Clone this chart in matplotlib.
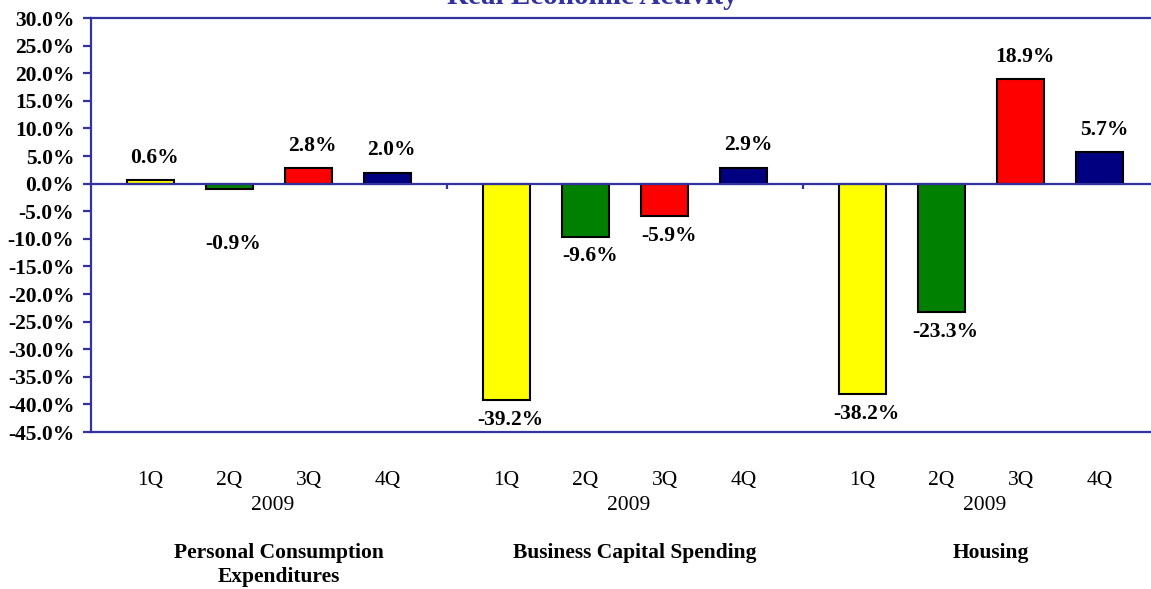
import matplotlib
matplotlib.use("Agg")
import matplotlib.pyplot as plt
import numpy as np

groups = ["Personal Consumption\nExpenditures", "Business Capital Spending", "Housing"]
quarters = ["1Q", "2Q", "3Q", "4Q"]
year = "2009"
values = [
    [0.6, -0.9, 2.8, 2.0],
    [-39.2, -9.6, -5.9, 2.9],
    [-38.2, -23.3, 18.9, 5.7],
]
colors = ["#FFFF00", "#008000", "#FF0000", "#000080"]
title = "Real Economic Activity"
yticks = np.arange(-45, 31, 5)

axis_color = "#3333A0"
serif = ["Liberation Serif", "DejaVu Serif"]
fs = 15.5

fig = plt.figure(figsize=(11.51, 5.89), dpi=100)
W, H = 1151, 589
ax = fig.add_axes([91 / W, 1 - 432 / H, (1159 - 91) / W, (432 - 18) / H])

gw = 4.5
margin = (gw - 3) / 2
bw = 0.6
for g, vals in enumerate(values):
    xs = g * gw + margin + np.arange(4)
    ax.bar(xs, vals, width=bw, color=colors, edgecolor="black", linewidth=1.5, zorder=3)
    for i, (x, v) in enumerate(zip(xs, vals)):
        if v >= 0:
            ax.annotate(f"{v:.1f}%", (x, v), xytext=(3, 9), textcoords="offset points",
                        ha="center", va="bottom", fontsize=fs, fontweight="bold",
                        family=serif)
        else:
            off = -33 if (g == 0 and i == 1) else -7
            ax.annotate(f"{v:.1f}%", (x, v), xytext=(3, off), textcoords="offset points",
                        ha="center", va="top", fontsize=fs, fontweight="bold",
                        family=serif)
        ax.text(x, -0.117, quarters[i], transform=ax.get_xaxis_transform(),
                ha="center", va="center", fontsize=fs, family=serif)
    gc = g * gw + gw / 2
    ax.text(gc + 0.05, -0.177, year, transform=ax.get_xaxis_transform(),
            ha="center", va="center", fontsize=fs, family=serif)
    ax.text(gc + 0.12, -0.268, groups[g], transform=ax.get_xaxis_transform(),
            ha="center", va="top", fontsize=fs, fontweight="bold", family=serif,
            linespacing=1.3)

ax.set_xlim(0, 3 * gw)
ax.set_ylim(-45, 30)
ax.axhline(0, color=axis_color, lw=1.6, zorder=4)
ax.vlines([gw, 2 * gw], -1.0, 0, color=axis_color, lw=1.6, zorder=4)

ax.set_yticks(yticks)
ax.set_yticklabels([f"{t:.1f}%" for t in yticks], fontsize=fs, fontweight="bold", family=serif)
ax.set_xticks([])
ax.tick_params(axis="y", direction="out", length=6, width=1.6, color=axis_color, pad=6)
for s in ["left", "top", "bottom", "right"]:
    ax.spines[s].set_color(axis_color)
    ax.spines[s].set_linewidth(1.6)

fig.text(592 / W, 1 - 4 / H, title, ha="center", va="baseline", fontsize=21,
         fontweight="bold", color="#3333A0", family=serif)

fig.savefig("out.png", dpi=100)
